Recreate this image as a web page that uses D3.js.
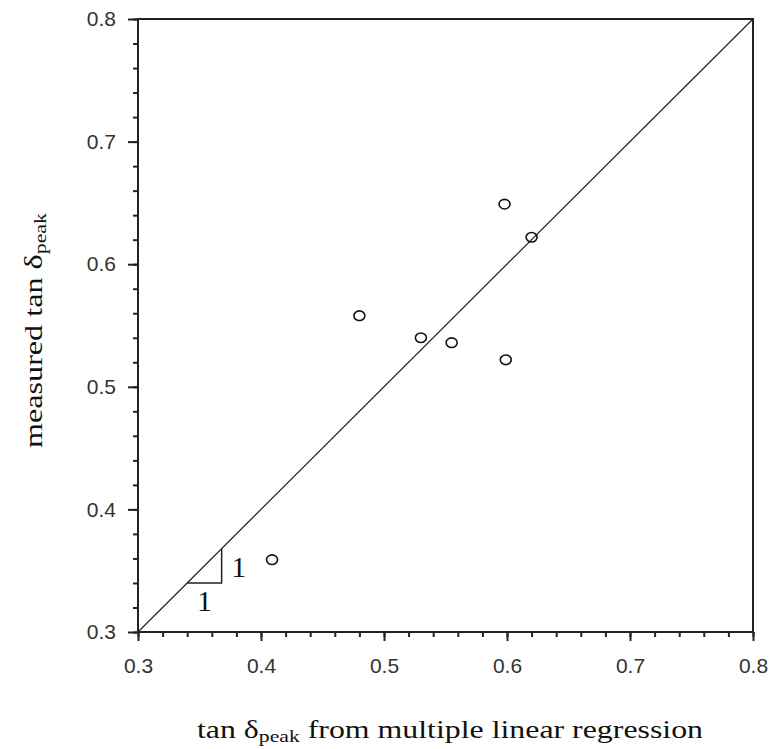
<!DOCTYPE html>
<html>
<head>
<meta charset="utf-8">
<script src="https://cdn.jsdelivr.net/npm/d3@7"></script>
<style>
html,body{margin:0;padding:0;background:#fff;}
svg{display:block;}
</style>
</head>
<body>
<svg id="chart" width="770" height="749"></svg>
<script>
// data
const predicted = [0.409, 0.480, 0.530, 0.555, 0.598, 0.620, 0.599];
const measured  = [0.359, 0.558, 0.540, 0.536, 0.649, 0.622, 0.522];
const majorTicks = [0.3, 0.4, 0.5, 0.6, 0.7, 0.8];
const tickLabels = ["0.3", "0.4", "0.5", "0.6", "0.7", "0.8"];
const minorTicks = d3.range(0, 26).map(i => 0.3 + i * 0.02);
const identityLine = [[0.3, 0.3], [0.8, 0.8]];
const slopeTriangle = [[0.34, 0.34], [0.368, 0.34], [0.368, 0.368]];

const svg = d3.select("#chart");
const L = 138, R = 753, T = 19, B = 632;
const x = d3.scaleLinear().domain([0.3, 0.8]).range([L, R]);
const y = d3.scaleLinear().domain([0.3, 0.8]).range([B, T]);

const col = "#222";

// minor ticks
const xMinor = d3.axisBottom(x).tickValues(minorTicks).tickSize(5).tickFormat("");
const yMinor = d3.axisLeft(y).tickValues(minorTicks).tickSize(5).tickFormat("");
const gxm = svg.append("g").attr("transform", `translate(0,${B})`).call(xMinor);
const gym = svg.append("g").attr("transform", `translate(${L},0)`).call(yMinor);
[gxm, gym].forEach(g => {
  g.select(".domain").remove();
  g.selectAll("line").attr("stroke", col).attr("stroke-width", 2);
});

// major ticks
const fmt = (d, i) => tickLabels[i];
const xMajor = d3.axisBottom(x).tickValues(majorTicks).tickSize(9).tickPadding(17).tickFormat(fmt);
const yMajor = d3.axisLeft(y).tickValues(majorTicks).tickSize(10).tickPadding(12).tickFormat(fmt);
const gx = svg.append("g").attr("transform", `translate(0,${B})`).call(xMajor);
const gy = svg.append("g").attr("transform", `translate(${L},0)`).call(yMajor);
[gx, gy].forEach(g => {
  g.select(".domain").remove();
  g.selectAll("line").attr("stroke", col).attr("stroke-width", 2);
  g.selectAll("text").attr("fill", "#333")
    .style("font-family", "'Liberation Sans', Arial, sans-serif")
    .style("font-size", "21px");
});

// frame
svg.append("rect")
  .attr("x", x(0.3)).attr("y", y(0.8))
  .attr("width", x(0.8) - x(0.3)).attr("height", y(0.3) - y(0.8))
  .attr("fill", "none").attr("stroke", col).attr("stroke-width", 2);

// identity line
const line = d3.line().x(d => x(d[0])).y(d => y(d[1]));
svg.append("path").datum(identityLine).attr("d", line)
  .attr("fill", "none").attr("stroke", col).attr("stroke-width", 1.2);

// slope triangle
svg.append("path").datum(slopeTriangle).attr("d", line)
  .attr("fill", "none").attr("stroke", col).attr("stroke-width", 1.5);
const serif = "'Liberation Serif', 'Times New Roman', serif";
svg.append("text")
  .attr("x", x(slopeTriangle[1][0]) + 17)
  .attr("y", (y(slopeTriangle[1][1]) + y(slopeTriangle[2][1])) / 2 + 11)
  .attr("text-anchor", "middle")
  .text("1").style("font-family", serif).style("font-size", "30px").attr("fill", "#111");
svg.append("text")
  .attr("x", (x(slopeTriangle[0][0]) + x(slopeTriangle[1][0])) / 2)
  .attr("y", y(slopeTriangle[0][1]) + 28)
  .attr("text-anchor", "middle")
  .text("1").style("font-family", serif).style("font-size", "30px").attr("fill", "#111");

// points
svg.append("g").selectAll("ellipse").data(predicted).join("ellipse")
  .attr("cx", d => x(d))
  .attr("cy", (d, i) => y(measured[i]))
  .attr("rx", 5.5).attr("ry", 4.8)
  .attr("fill", "none").attr("stroke", "#111").attr("stroke-width", 1.6);

// axis titles
const xt = svg.append("text")
  .attr("x", 197).attr("y", 738)
  .attr("textLength", 506).attr("lengthAdjust", "spacingAndGlyphs")
  .style("font-family", serif).style("font-weight", "normal").style("font-size", "25px").attr("fill", "#111");
xt.append("tspan").text("tan δ");
xt.append("tspan").text("peak").attr("dy", 4).style("font-size", "17px");
xt.append("tspan").text(" from multiple linear regression").attr("dy", -4);

const yt = svg.append("text")
  .attr("transform", "translate(42,448) rotate(-90)")
  .attr("x", 0).attr("y", 0)
  .attr("textLength", 235).attr("lengthAdjust", "spacingAndGlyphs")
  .style("font-family", serif).style("font-weight", "normal").style("font-size", "25px").attr("fill", "#111");
yt.append("tspan").text("measured tan δ");
yt.append("tspan").text("peak").attr("dy", 4).style("font-size", "17px");
</script>
</body>
</html>
